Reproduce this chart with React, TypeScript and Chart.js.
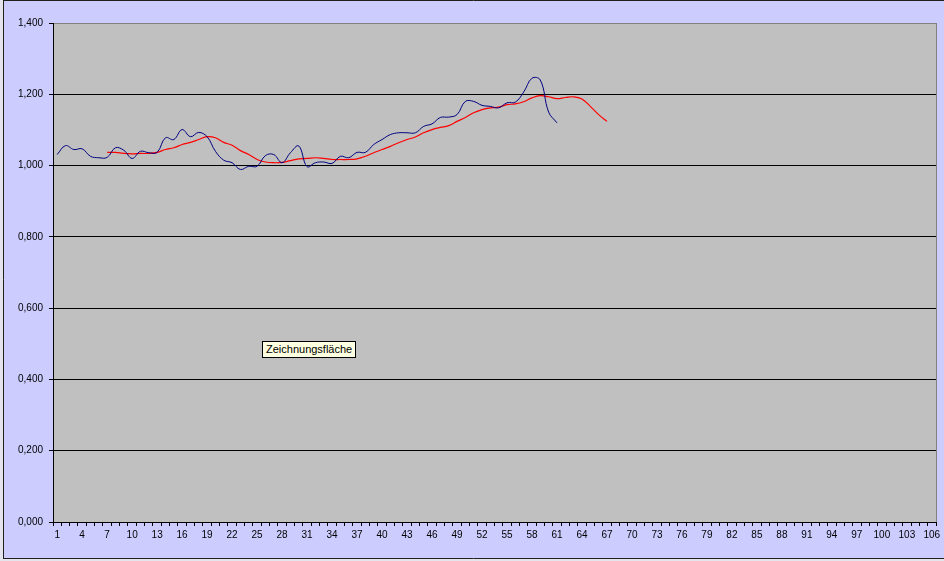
import React, { useEffect, useRef } from "react";
import { Chart, registerables } from "chart.js";

Chart.register(...registerables);

const categories: string[] = Array.from({ length: 106 }, (_, i) => String(i + 1));

const yTicks: number[] = [0, 0.2, 0.4, 0.6, 0.8, 1.0, 1.2, 1.4];

// Blue series: categories 1..61
const blueValues: number[] = [
  1.031, 1.056, 1.045, 1.047, 1.026, 1.022, 1.023, 1.05, 1.043, 1.02,
  1.04, 1.036, 1.037, 1.078, 1.073, 1.101, 1.081, 1.093, 1.081, 1.04,
  1.015, 1.008, 0.989, 0.998, 0.998, 1.028, 1.031, 1.008, 1.036, 1.055,
  0.997, 1.008, 1.01, 1.006, 1.026, 1.022, 1.037, 1.037, 1.059, 1.073,
  1.087, 1.092, 1.092, 1.092, 1.11, 1.117, 1.135, 1.136, 1.143, 1.18,
  1.18, 1.169, 1.166, 1.162, 1.176, 1.178, 1.206, 1.245, 1.24, 1.15,
  1.12,
];
const blueStart = 1;

// Red series (moving average): categories 7..67
const redValues: number[] = [
  1.037, 1.037, 1.034, 1.033, 1.034, 1.034, 1.037, 1.045, 1.05, 1.059,
  1.065, 1.073, 1.081, 1.078, 1.065, 1.057, 1.042, 1.031, 1.017, 1.01,
  1.008, 1.009, 1.014, 1.019, 1.02, 1.022, 1.02, 1.017, 1.017, 1.017,
  1.019, 1.026, 1.036, 1.045, 1.054, 1.064, 1.073, 1.08, 1.092, 1.101,
  1.107, 1.112, 1.124, 1.135, 1.148, 1.157, 1.162, 1.164, 1.171, 1.173,
  1.179, 1.19, 1.196, 1.193, 1.188, 1.191, 1.193, 1.187, 1.166, 1.143,
  1.124,
];
const redStart = 7;

function pad(values: number[], start: number): (number | null)[] {
  return categories.map((_, i) => {
    const k = i + 1 - start;
    return k >= 0 && k < values.length ? values[k] : null;
  });
}

const FONT = "'Liberation Sans Narrow', 'Liberation Sans', Arial, sans-serif";

const backgroundPlugin = {
  id: "excelBg",
  beforeDraw(chart: any) {
    const { ctx, chartArea, width, height } = chart;
    ctx.save();
    ctx.fillStyle = "#CCCCFF";
    ctx.fillRect(0, 0, width, height);
    ctx.fillStyle = "#E4E4EC";
    ctx.fillRect(0, 0, 3, height);
    ctx.fillRect(0, 559, width, height - 559);
    ctx.strokeStyle = "#202020";
    ctx.lineWidth = 1;
    ctx.beginPath();
    ctx.moveTo(3.5, 0);
    ctx.lineTo(3.5, 558.5);
    ctx.moveTo(3, 0.5);
    ctx.lineTo(width, 0.5);
    ctx.moveTo(3, 558.5);
    ctx.lineTo(width, 558.5);
    ctx.stroke();
    ctx.fillStyle = "#C0C0C0";
    ctx.fillRect(chartArea.left, chartArea.top, chartArea.right - chartArea.left, chartArea.bottom - chartArea.top);
    ctx.restore();
  },
  afterDatasetsDraw(chart: any) {
    const { ctx, chartArea } = chart;
    ctx.save();
    ctx.strokeStyle = "#808080";
    ctx.lineWidth = 1;
    ctx.beginPath();
    ctx.moveTo(Math.round(chartArea.right) + 0.5, chartArea.top);
    ctx.lineTo(Math.round(chartArea.right) + 0.5, chartArea.bottom);
    ctx.stroke();
    ctx.restore();
  },
};

export default function App() {
  const canvasRef = useRef<HTMLCanvasElement | null>(null);

  useEffect(() => {
    const canvas = canvasRef.current;
    if (!canvas) return;
    const chart = new Chart(canvas, {
      type: "line",
      data: {
        labels: categories,
        datasets: [
          {
            label: "Werte",
            data: pad(blueValues, blueStart),
            borderColor: "#000080",
            borderWidth: 1,
            pointRadius: 0,
            tension: 0.4,
            fill: false,
          },
          {
            label: "Gleitender Durchschnitt",
            data: pad(redValues, redStart),
            borderColor: "#FF0000",
            borderWidth: 1.2,
            pointRadius: 0,
            tension: 0.4,
            fill: false,
          },
        ],
      },
      options: {
        responsive: false,
        animation: false,
        devicePixelRatio: 1,
        layout: { padding: { left: 0, top: 23, right: 8, bottom: 0 } },
        plugins: {
          legend: { display: false },
          tooltip: { enabled: false },
          title: { display: false },
        },
        scales: {
          x: {
            type: "category",
            offset: true,
            grid: {
              display: true,
              drawOnChartArea: false,
              drawTicks: true,
              tickLength: 4,
              color: "#000000",
              offset: true,
            },
            border: { display: true, color: "#000000", width: 1 },
            ticks: {
              autoSkip: false,
              maxRotation: 0,
              minRotation: 0,
              padding: 3,
              color: "#000000",
              font: { family: FONT, size: 10 },
              callback: (_v: any, index: number) => (index % 3 === 0 ? categories[index] : ""),
            },
            afterFit: (scale: any) => {
              scale.height = 39;
            },
          },
          y: {
            min: 0,
            max: 1.4,
            afterBuildTicks: (scale: any) => {
              scale.ticks = yTicks.map((v) => ({ value: v }));
            },
            grid: {
              color: (c: any) => (c.tick && Math.abs(c.tick.value - 1.4) < 1e-6 ? "#808080" : "#000000"),
              tickColor: "#000000",
              tickLength: 4,
              drawTicks: true,
              lineWidth: 1,
            },
            border: { display: true, color: "#000000", width: 1 },
            ticks: {
              padding: 6,
              color: "#000000",
              font: { family: FONT, size: 10 },
              callback: (v: any) => Number(v).toFixed(3).replace(".", ","),
            },
            afterFit: (scale: any) => {
              scale.width = 53;
            },
          },
        },
      },
      plugins: [backgroundPlugin],
    });
    return () => chart.destroy();
  }, []);

  return (
    <div style={{ position: "fixed", left: 0, top: 0, width: 944, height: 561, overflow: "hidden" }}>
      <canvas ref={canvasRef} width={944} height={561} style={{ display: "block", width: 944, height: 561 }} />
      <div
        style={{
          position: "absolute",
          left: 262,
          top: 341,
          height: 15,
          padding: "0 3px",
          border: "1px solid #000000",
          background: "#FFFFE1",
          fontFamily: "'Liberation Sans', Arial, sans-serif",
          fontSize: 11,
          lineHeight: "15px",
          color: "#000000",
          whiteSpace: "nowrap",
        }}
      >
        Zeichnungsfläche
      </div>
    </div>
  );
}
